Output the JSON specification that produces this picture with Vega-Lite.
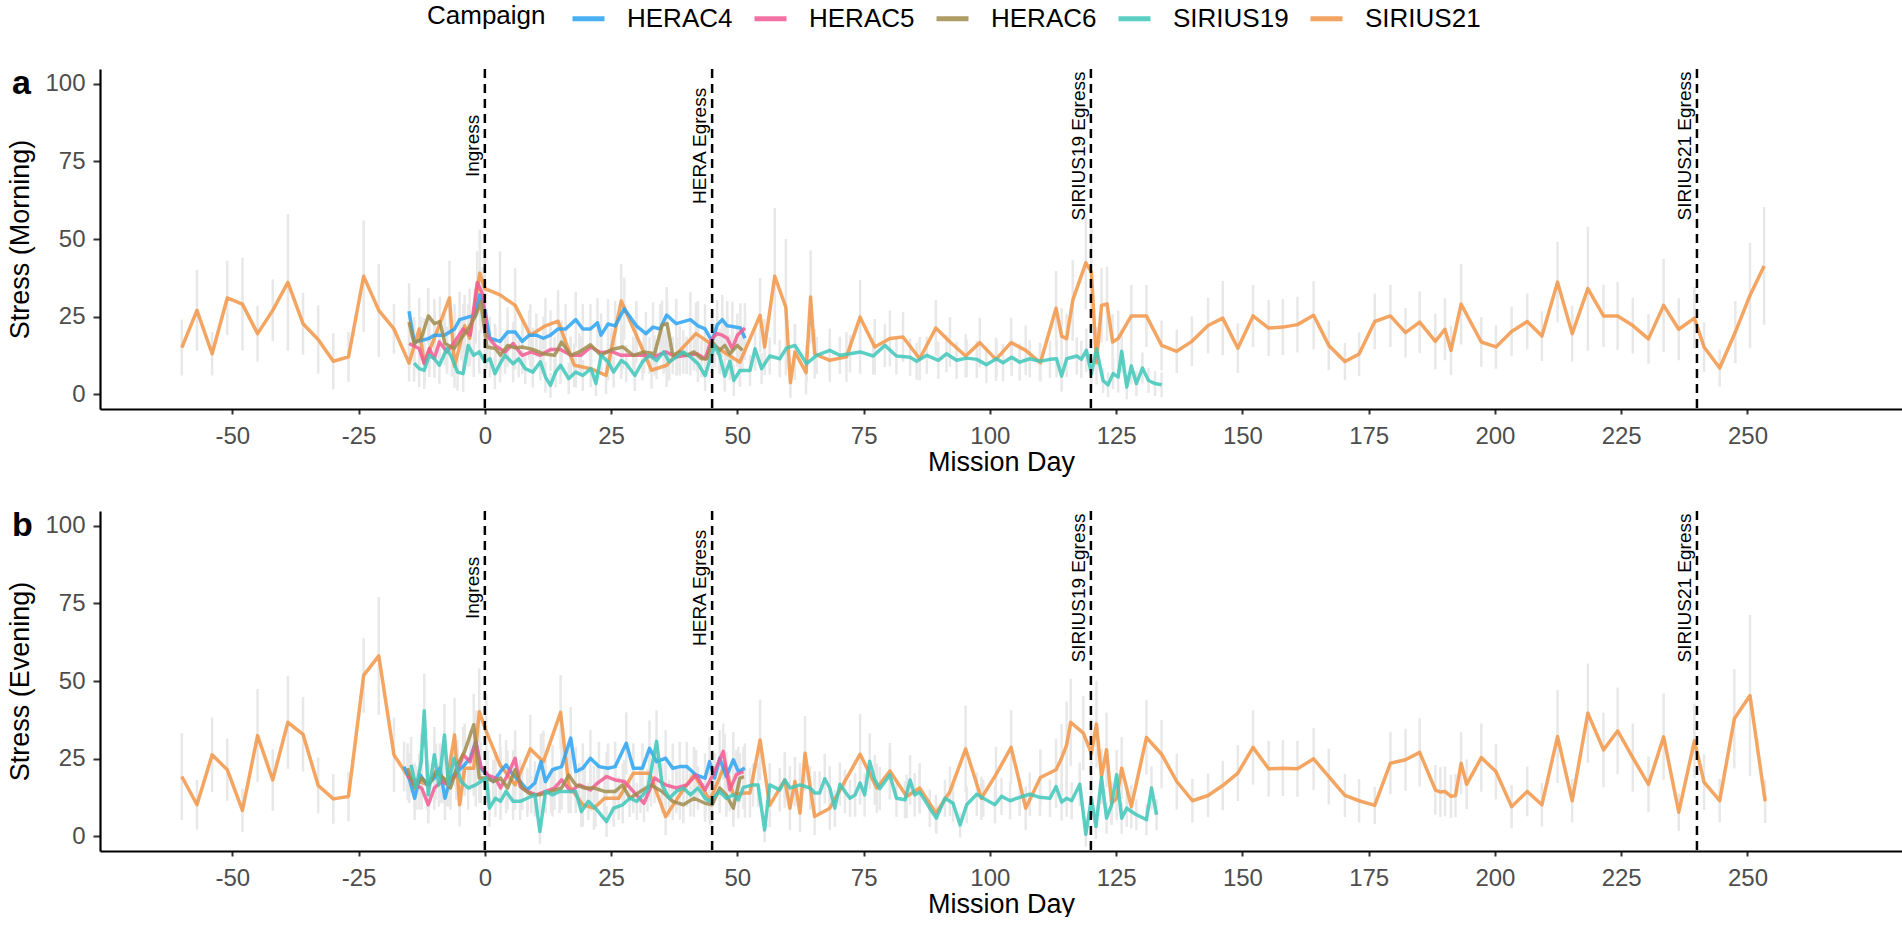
{
  "$schema": "https://vega.github.io/schema/vega-lite/v6.json",
  "background": "white",
  "padding": {"left": 6, "top": 0, "right": 0, "bottom": 0},
  "bounds": "flush",
  "spacing": 102,
  "config": {
    "view": {"stroke": null},
    "font": "Liberation Sans",
    "axis": {
      "grid": false,
      "labelFontSize": 24,
      "labelColor": "#4d4d4d",
      "titleFontSize": 27,
      "titleFontWeight": "normal",
      "titleColor": "black",
      "domainColor": "black",
      "domainWidth": 2.2,
      "tickColor": "#333333",
      "tickWidth": 2
    },
    "axisX": {"tickSize": 5, "labelPadding": 10, "titlePadding": 1},
    "axisY": {"tickSize": 7, "labelPadding": 8, "titlePadding": 10}
  },
  "datasets": {
    "ev": [
      {"d": 0, "t": "Ingress"},
      {"d": 45, "t": "HERA Egress"},
      {"d": 120, "t": "SIRIUS19 Egress"},
      {"d": 240, "t": "SIRIUS21 Egress"}
    ],
    "am": [
      {"c":"SIRIUS21","d":-60,"v":15,"e":9},{"c":"SIRIUS21","d":-57,"v":27,"e":13},{"c":"SIRIUS21","d":-54,"v":13,"e":7},{"c":"SIRIUS21","d":-51,"v":31,"e":12},{"c":"SIRIUS21","d":-48,"v":29,"e":15},{"c":"SIRIUS21","d":-45,"v":19.5,"e":9},{"c":"SIRIUS21","d":-42,"v":27,"e":10},{"c":"SIRIUS21","d":-39,"v":36,"e":22},{"c":"SIRIUS21","d":-36,"v":22.7,"e":10},{"c":"SIRIUS21","d":-33,"v":17.6,"e":11},{"c":"SIRIUS21","d":-30,"v":10.6,"e":9},{"c":"SIRIUS21","d":-27,"v":12,"e":8},{"c":"SIRIUS21","d":-24,"v":38,"e":18},{"c":"SIRIUS21","d":-21,"v":27,"e":15},{"c":"SIRIUS21","d":-18,"v":21,"e":8},{"c":"SIRIUS21","d":-15,"v":10,"e":6},{"c":"SIRIUS21","d":-13,"v":21,"e":10},{"c":"SIRIUS21","d":-12,"v":10,"e":6},{"c":"SIRIUS21","d":-10,"v":18,"e":8},{"c":"SIRIUS21","d":-7,"v":31,"e":12},{"c":"SIRIUS21","d":-6,"v":9,"e":7},{"c":"SIRIUS21","d":-4,"v":22,"e":10},{"c":"SIRIUS21","d":-3,"v":18,"e":9},{"c":"SIRIUS21","d":-1,"v":39,"e":14},{"c":"SIRIUS21","d":0,"v":34,"e":12},{"c":"SIRIUS21","d":3,"v":32,"e":14},{"c":"SIRIUS21","d":6,"v":28.6,"e":12},{"c":"SIRIUS21","d":9,"v":19,"e":10},{"c":"SIRIUS21","d":12,"v":22,"e":9},{"c":"SIRIUS21","d":14.5,"v":23.5,"e":10},{"c":"SIRIUS21","d":17.7,"v":9.3,"e":7},{"c":"SIRIUS21","d":21,"v":8.2,"e":6},{"c":"SIRIUS21","d":24,"v":6,"e":6},{"c":"SIRIUS21","d":27,"v":30,"e":12},{"c":"SIRIUS21","d":30,"v":19,"e":9},{"c":"SIRIUS21","d":33,"v":7.7,"e":6},{"c":"SIRIUS21","d":36,"v":9.3,"e":7},{"c":"SIRIUS21","d":38.6,"v":14,"e":8},{"c":"SIRIUS21","d":41.8,"v":19.5,"e":10},{"c":"SIRIUS21","d":45,"v":16,"e":9},{"c":"SIRIUS21","d":50.5,"v":10.3,"e":8},{"c":"SIRIUS21","d":54.5,"v":25.4,"e":12},{"c":"SIRIUS21","d":55.4,"v":15.2,"e":9},{"c":"SIRIUS21","d":57.4,"v":38,"e":22},{"c":"SIRIUS21","d":59.6,"v":28,"e":22},{"c":"SIRIUS21","d":60.5,"v":3.7,"e":5},{"c":"SIRIUS21","d":61.4,"v":13.6,"e":9},{"c":"SIRIUS21","d":63.6,"v":6.9,"e":7},{"c":"SIRIUS21","d":64.5,"v":31.3,"e":15},{"c":"SIRIUS21","d":65.3,"v":13,"e":8},{"c":"SIRIUS21","d":68.3,"v":10.9,"e":7},{"c":"SIRIUS21","d":71.6,"v":12,"e":8},{"c":"SIRIUS21","d":74.3,"v":24.8,"e":12},{"c":"SIRIUS21","d":77.2,"v":15.2,"e":9},{"c":"SIRIUS21","d":80.2,"v":17.9,"e":9},{"c":"SIRIUS21","d":82.8,"v":18.4,"e":8},{"c":"SIRIUS21","d":86.1,"v":11.4,"e":7},{"c":"SIRIUS21","d":89.3,"v":21.3,"e":9},{"c":"SIRIUS21","d":92.1,"v":16.8,"e":8},{"c":"SIRIUS21","d":95.2,"v":12.3,"e":7},{"c":"SIRIUS21","d":98,"v":16.6,"e":8},{"c":"SIRIUS21","d":101.2,"v":11.2,"e":7},{"c":"SIRIUS21","d":104.2,"v":16.6,"e":8},{"c":"SIRIUS21","d":107.1,"v":14.1,"e":8},{"c":"SIRIUS21","d":110,"v":10.1,"e":6},{"c":"SIRIUS21","d":113.1,"v":27.7,"e":12},{"c":"SIRIUS21","d":114.2,"v":18.7,"e":9},{"c":"SIRIUS21","d":115.2,"v":17.9,"e":8},{"c":"SIRIUS21","d":116.4,"v":30.2,"e":13},{"c":"SIRIUS21","d":119,"v":42.3,"e":15},{"c":"SIRIUS21","d":120.1,"v":39.3,"e":14},{"c":"SIRIUS21","d":121.1,"v":10.1,"e":7},{"c":"SIRIUS21","d":122.1,"v":28.6,"e":12},{"c":"SIRIUS21","d":123.2,"v":29.1,"e":12},{"c":"SIRIUS21","d":124.3,"v":16.8,"e":9},{"c":"SIRIUS21","d":125.4,"v":17.9,"e":9},{"c":"SIRIUS21","d":128,"v":25.2,"e":10},{"c":"SIRIUS21","d":131,"v":25.2,"e":10},{"c":"SIRIUS21","d":134,"v":15.7,"e":8},{"c":"SIRIUS21","d":137,"v":13.8,"e":7},{"c":"SIRIUS21","d":140,"v":17,"e":8},{"c":"SIRIUS21","d":143.2,"v":22.1,"e":9},{"c":"SIRIUS21","d":146.1,"v":24.5,"e":12},{"c":"SIRIUS21","d":149.1,"v":14.8,"e":8},{"c":"SIRIUS21","d":152.1,"v":25.2,"e":10},{"c":"SIRIUS21","d":155.2,"v":21.3,"e":9},{"c":"SIRIUS21","d":158,"v":21.6,"e":9},{"c":"SIRIUS21","d":160.9,"v":22.4,"e":9},{"c":"SIRIUS21","d":164.1,"v":25.4,"e":11},{"c":"SIRIUS21","d":167.1,"v":15.7,"e":8},{"c":"SIRIUS21","d":170.3,"v":10.5,"e":6},{"c":"SIRIUS21","d":173.1,"v":12.9,"e":7},{"c":"SIRIUS21","d":176.2,"v":23.4,"e":9},{"c":"SIRIUS21","d":179.3,"v":25.2,"e":10},{"c":"SIRIUS21","d":182.3,"v":19.8,"e":8},{"c":"SIRIUS21","d":185.1,"v":23.2,"e":10},{"c":"SIRIUS21","d":188.2,"v":17,"e":9},{"c":"SIRIUS21","d":190.1,"v":20.9,"e":10},{"c":"SIRIUS21","d":191.3,"v":14.1,"e":8},{"c":"SIRIUS21","d":193.3,"v":29,"e":13},{"c":"SIRIUS21","d":197.3,"v":16.8,"e":8},{"c":"SIRIUS21","d":200.2,"v":15.2,"e":7},{"c":"SIRIUS21","d":203.3,"v":20.2,"e":8},{"c":"SIRIUS21","d":206.4,"v":23.4,"e":9},{"c":"SIRIUS21","d":209.3,"v":18.7,"e":8},{"c":"SIRIUS21","d":212.4,"v":36.1,"e":13},{"c":"SIRIUS21","d":215.3,"v":19.5,"e":9},{"c":"SIRIUS21","d":218.4,"v":34,"e":20},{"c":"SIRIUS21","d":221.5,"v":25.2,"e":10},{"c":"SIRIUS21","d":224.3,"v":25.2,"e":11},{"c":"SIRIUS21","d":227.3,"v":22.1,"e":9},{"c":"SIRIUS21","d":230.4,"v":17.8,"e":8},{"c":"SIRIUS21","d":233.4,"v":28.6,"e":15},{"c":"SIRIUS21","d":236.4,"v":20.9,"e":10},{"c":"SIRIUS21","d":239.5,"v":24.5,"e":10},{"c":"SIRIUS21","d":241.4,"v":15.2,"e":8},{"c":"SIRIUS21","d":244.5,"v":8.4,"e":6},{"c":"SIRIUS21","d":247.6,"v":20,"e":10},{"c":"SIRIUS21","d":250.5,"v":31.8,"e":17},{"c":"SIRIUS21","d":253.3,"v":41.3,"e":19},
      {"c":"HERAC4","d":-15,"v":26.7,"e":9},{"c":"HERAC4","d":-14,"v":16.8,"e":8},{"c":"HERAC4","d":-12,"v":17.5,"e":7},{"c":"HERAC4","d":-11,"v":18,"e":7},{"c":"HERAC4","d":-10,"v":19,"e":8},{"c":"HERAC4","d":-8,"v":19,"e":7},{"c":"HERAC4","d":-6,"v":21,"e":8},{"c":"HERAC4","d":-5,"v":24,"e":9},{"c":"HERAC4","d":-3,"v":25,"e":9},{"c":"HERAC4","d":-2,"v":25,"e":9},{"c":"HERAC4","d":-1,"v":32,"e":10},{"c":"HERAC4","d":0,"v":27,"e":9},{"c":"HERAC4","d":1,"v":18,"e":7},{"c":"HERAC4","d":3,"v":17,"e":7},{"c":"HERAC4","d":4.5,"v":20,"e":8},{"c":"HERAC4","d":6,"v":20,"e":8},{"c":"HERAC4","d":7.4,"v":17,"e":7},{"c":"HERAC4","d":8.8,"v":19,"e":8},{"c":"HERAC4","d":10.2,"v":19,"e":7},{"c":"HERAC4","d":11.6,"v":18,"e":7},{"c":"HERAC4","d":13,"v":19,"e":8},{"c":"HERAC4","d":14.5,"v":21,"e":8},{"c":"HERAC4","d":16,"v":21,"e":8},{"c":"HERAC4","d":18,"v":24,"e":9},{"c":"HERAC4","d":19.4,"v":21,"e":8},{"c":"HERAC4","d":20.9,"v":21,"e":8},{"c":"HERAC4","d":22.3,"v":23,"e":8},{"c":"HERAC4","d":23,"v":19,"e":7},{"c":"HERAC4","d":24.4,"v":22.6,"e":8},{"c":"HERAC4","d":25.8,"v":22,"e":8},{"c":"HERAC4","d":27.6,"v":27.5,"e":10},{"c":"HERAC4","d":30,"v":22,"e":8},{"c":"HERAC4","d":31.9,"v":19.5,"e":7},{"c":"HERAC4","d":33.3,"v":21.6,"e":8},{"c":"HERAC4","d":34.7,"v":21,"e":8},{"c":"HERAC4","d":36,"v":25.5,"e":9},{"c":"HERAC4","d":37.9,"v":22.7,"e":8},{"c":"HERAC4","d":40.7,"v":24,"e":9},{"c":"HERAC4","d":42.2,"v":22,"e":8},{"c":"HERAC4","d":43.6,"v":21,"e":8},{"c":"HERAC4","d":45,"v":17,"e":7},{"c":"HERAC4","d":46,"v":22.3,"e":8},{"c":"HERAC4","d":47,"v":24,"e":8},{"c":"HERAC4","d":48,"v":22,"e":8},{"c":"HERAC4","d":49,"v":21.8,"e":8},{"c":"HERAC4","d":50.6,"v":21.3,"e":8},{"c":"HERAC4","d":51.5,"v":18,"e":7},
      {"c":"HERAC5","d":-15,"v":16.3,"e":7},{"c":"HERAC5","d":-13,"v":14.7,"e":7},{"c":"HERAC5","d":-12,"v":9.8,"e":6},{"c":"HERAC5","d":-11,"v":14.7,"e":7},{"c":"HERAC5","d":-10,"v":11.4,"e":6},{"c":"HERAC5","d":-9,"v":16.8,"e":7},{"c":"HERAC5","d":-7.5,"v":13.6,"e":7},{"c":"HERAC5","d":-6,"v":16.8,"e":7},{"c":"HERAC5","d":-4.3,"v":21,"e":8},{"c":"HERAC5","d":-2.9,"v":19,"e":8},{"c":"HERAC5","d":-1.5,"v":36,"e":10},{"c":"HERAC5","d":-0.4,"v":32,"e":9},{"c":"HERAC5","d":0.4,"v":19,"e":8},{"c":"HERAC5","d":2,"v":15.7,"e":7},{"c":"HERAC5","d":4,"v":13.6,"e":6},{"c":"HERAC5","d":5.6,"v":16.3,"e":7},{"c":"HERAC5","d":7.4,"v":12.5,"e":6},{"c":"HERAC5","d":9.2,"v":13.6,"e":6},{"c":"HERAC5","d":11,"v":12.5,"e":6},{"c":"HERAC5","d":13,"v":14.4,"e":7},{"c":"HERAC5","d":15,"v":14.4,"e":7},{"c":"HERAC5","d":17,"v":12.5,"e":6},{"c":"HERAC5","d":19,"v":12.5,"e":6},{"c":"HERAC5","d":21,"v":15.2,"e":7},{"c":"HERAC5","d":23,"v":13.3,"e":6},{"c":"HERAC5","d":25,"v":13.8,"e":6},{"c":"HERAC5","d":27,"v":12.5,"e":6},{"c":"HERAC5","d":29.4,"v":12.5,"e":6},{"c":"HERAC5","d":31.5,"v":12.5,"e":6},{"c":"HERAC5","d":33.6,"v":12,"e":6},{"c":"HERAC5","d":35.8,"v":13.6,"e":6},{"c":"HERAC5","d":38,"v":12,"e":6},{"c":"HERAC5","d":40,"v":12.5,"e":6},{"c":"HERAC5","d":42,"v":13,"e":6},{"c":"HERAC5","d":43.6,"v":11.4,"e":6},{"c":"HERAC5","d":45,"v":17.9,"e":7},{"c":"HERAC5","d":46,"v":19.5,"e":7},{"c":"HERAC5","d":47,"v":19,"e":7},{"c":"HERAC5","d":48,"v":18,"e":7},{"c":"HERAC5","d":49,"v":14.6,"e":7},{"c":"HERAC5","d":50,"v":19,"e":7},{"c":"HERAC5","d":51.5,"v":21.3,"e":8},
      {"c":"HERAC6","d":-15,"v":23.2,"e":8},{"c":"HERAC6","d":-14,"v":16.3,"e":7},{"c":"HERAC6","d":-12.6,"v":17.9,"e":7},{"c":"HERAC6","d":-11.2,"v":25.2,"e":9},{"c":"HERAC6","d":-10,"v":22.7,"e":8},{"c":"HERAC6","d":-8.9,"v":23.4,"e":8},{"c":"HERAC6","d":-7.9,"v":16.3,"e":7},{"c":"HERAC6","d":-6.1,"v":14.7,"e":7},{"c":"HERAC6","d":-4.7,"v":17.9,"e":7},{"c":"HERAC6","d":-3.3,"v":21,"e":8},{"c":"HERAC6","d":-1.8,"v":25.4,"e":9},{"c":"HERAC6","d":-0.8,"v":29.7,"e":10},{"c":"HERAC6","d":0.4,"v":15.2,"e":7},{"c":"HERAC6","d":2.1,"v":14.7,"e":7},{"c":"HERAC6","d":3.1,"v":12.5,"e":6},{"c":"HERAC6","d":4.5,"v":15.7,"e":7},{"c":"HERAC6","d":6,"v":14.9,"e":7},{"c":"HERAC6","d":7.4,"v":15.2,"e":7},{"c":"HERAC6","d":9.5,"v":14.4,"e":7},{"c":"HERAC6","d":11.6,"v":13,"e":6},{"c":"HERAC6","d":13.8,"v":12.5,"e":6},{"c":"HERAC6","d":15.2,"v":16.8,"e":7},{"c":"HERAC6","d":17,"v":12.5,"e":6},{"c":"HERAC6","d":18.7,"v":13.6,"e":6},{"c":"HERAC6","d":20.9,"v":15.9,"e":7},{"c":"HERAC6","d":23,"v":12.5,"e":6},{"c":"HERAC6","d":25.1,"v":14.4,"e":7},{"c":"HERAC6","d":27.3,"v":15.2,"e":7},{"c":"HERAC6","d":29.4,"v":12.5,"e":6},{"c":"HERAC6","d":31.5,"v":13.6,"e":6},{"c":"HERAC6","d":33.6,"v":13,"e":6},{"c":"HERAC6","d":35.1,"v":22.2,"e":8},{"c":"HERAC6","d":36.1,"v":22.7,"e":8},{"c":"HERAC6","d":37.2,"v":12.5,"e":6},{"c":"HERAC6","d":38.6,"v":13.6,"e":6},{"c":"HERAC6","d":40,"v":12.5,"e":6},{"c":"HERAC6","d":41.4,"v":13.6,"e":6},{"c":"HERAC6","d":42.9,"v":11.4,"e":6},{"c":"HERAC6","d":44,"v":11.4,"e":6},{"c":"HERAC6","d":45,"v":16.8,"e":7},{"c":"HERAC6","d":46.5,"v":14.1,"e":7},{"c":"HERAC6","d":47.5,"v":15.7,"e":7},{"c":"HERAC6","d":48.5,"v":13,"e":6},{"c":"HERAC6","d":50,"v":15.7,"e":7},{"c":"HERAC6","d":51,"v":14.1,"e":7},
      {"c":"SIRIUS19","d":-14,"v":10,"e":6},{"c":"SIRIUS19","d":-13,"v":8.2,"e":6},{"c":"SIRIUS19","d":-12,"v":7.7,"e":6},{"c":"SIRIUS19","d":-11,"v":12.5,"e":7},{"c":"SIRIUS19","d":-10,"v":11.4,"e":6},{"c":"SIRIUS19","d":-9,"v":9.3,"e":6},{"c":"SIRIUS19","d":-7.5,"v":14.7,"e":7},{"c":"SIRIUS19","d":-6.5,"v":11.6,"e":6},{"c":"SIRIUS19","d":-5.4,"v":7.1,"e":6},{"c":"SIRIUS19","d":-4.3,"v":6.6,"e":6},{"c":"SIRIUS19","d":-3.3,"v":15.7,"e":7},{"c":"SIRIUS19","d":-2.2,"v":12.5,"e":7},{"c":"SIRIUS19","d":-1.1,"v":13.6,"e":7},{"c":"SIRIUS19","d":0,"v":10.4,"e":6},{"c":"SIRIUS19","d":1,"v":11.4,"e":6},{"c":"SIRIUS19","d":2,"v":6.6,"e":5},{"c":"SIRIUS19","d":3,"v":9.8,"e":6},{"c":"SIRIUS19","d":4,"v":12.5,"e":6},{"c":"SIRIUS19","d":5.6,"v":9.8,"e":6},{"c":"SIRIUS19","d":6.7,"v":11.4,"e":6},{"c":"SIRIUS19","d":8,"v":8.2,"e":5},{"c":"SIRIUS19","d":9.5,"v":7.1,"e":5},{"c":"SIRIUS19","d":11,"v":10.4,"e":6},{"c":"SIRIUS19","d":12,"v":5.5,"e":5},{"c":"SIRIUS19","d":13,"v":2.8,"e":4},{"c":"SIRIUS19","d":14,"v":7.1,"e":5},{"c":"SIRIUS19","d":15,"v":9.3,"e":6},{"c":"SIRIUS19","d":16.6,"v":5,"e":5},{"c":"SIRIUS19","d":18,"v":7.1,"e":5},{"c":"SIRIUS19","d":19.4,"v":6,"e":5},{"c":"SIRIUS19","d":21,"v":8.2,"e":5},{"c":"SIRIUS19","d":22,"v":3.4,"e":4},{"c":"SIRIUS19","d":23,"v":12.5,"e":6},{"c":"SIRIUS19","d":24.4,"v":10.4,"e":6},{"c":"SIRIUS19","d":25.5,"v":7.1,"e":5},{"c":"SIRIUS19","d":27,"v":10.8,"e":6},{"c":"SIRIUS19","d":28,"v":9.8,"e":6},{"c":"SIRIUS19","d":29.7,"v":6,"e":5},{"c":"SIRIUS19","d":31.2,"v":10.4,"e":6},{"c":"SIRIUS19","d":32.6,"v":12.5,"e":6},{"c":"SIRIUS19","d":34,"v":10.8,"e":6},{"c":"SIRIUS19","d":35.4,"v":13.6,"e":7},{"c":"SIRIUS19","d":36.5,"v":10.4,"e":6},{"c":"SIRIUS19","d":38,"v":12,"e":6},{"c":"SIRIUS19","d":39.3,"v":13.6,"e":7},{"c":"SIRIUS19","d":40.7,"v":12,"e":6},{"c":"SIRIUS19","d":42.2,"v":9.8,"e":6},{"c":"SIRIUS19","d":43.6,"v":6,"e":5},{"c":"SIRIUS19","d":45.5,"v":15.7,"e":7},{"c":"SIRIUS19","d":46.5,"v":12.5,"e":6},{"c":"SIRIUS19","d":47.5,"v":5.8,"e":5},{"c":"SIRIUS19","d":48.5,"v":10.6,"e":6},{"c":"SIRIUS19","d":49.3,"v":4.4,"e":5},{"c":"SIRIUS19","d":50.5,"v":7.6,"e":5},{"c":"SIRIUS19","d":52.5,"v":7.6,"e":5},{"c":"SIRIUS19","d":53.5,"v":14.6,"e":7},{"c":"SIRIUS19","d":54.8,"v":8.2,"e":5},{"c":"SIRIUS19","d":56.4,"v":12.3,"e":6},{"c":"SIRIUS19","d":58.4,"v":11.4,"e":6},{"c":"SIRIUS19","d":59.7,"v":14.8,"e":7},{"c":"SIRIUS19","d":61.4,"v":15.7,"e":7},{"c":"SIRIUS19","d":63.7,"v":9.8,"e":6},{"c":"SIRIUS19","d":65.7,"v":12.5,"e":6},{"c":"SIRIUS19","d":68.3,"v":14.1,"e":7},{"c":"SIRIUS19","d":70.3,"v":12.5,"e":6},{"c":"SIRIUS19","d":72.3,"v":13,"e":6},{"c":"SIRIUS19","d":74.3,"v":13.6,"e":7},{"c":"SIRIUS19","d":76.9,"v":12.3,"e":6},{"c":"SIRIUS19","d":79.2,"v":15.7,"e":7},{"c":"SIRIUS19","d":81.5,"v":12.3,"e":6},{"c":"SIRIUS19","d":84.2,"v":11.9,"e":6},{"c":"SIRIUS19","d":85.5,"v":10.6,"e":6},{"c":"SIRIUS19","d":87.5,"v":12.5,"e":6},{"c":"SIRIUS19","d":89.8,"v":10.9,"e":6},{"c":"SIRIUS19","d":91.4,"v":13,"e":6},{"c":"SIRIUS19","d":93.4,"v":10.9,"e":6},{"c":"SIRIUS19","d":95.4,"v":11.6,"e":6},{"c":"SIRIUS19","d":97.4,"v":11.2,"e":6},{"c":"SIRIUS19","d":99.3,"v":9.5,"e":6},{"c":"SIRIUS19","d":101.3,"v":11.4,"e":6},{"c":"SIRIUS19","d":102.6,"v":10.1,"e":6},{"c":"SIRIUS19","d":104.3,"v":11.9,"e":6},{"c":"SIRIUS19","d":105.9,"v":10.3,"e":6},{"c":"SIRIUS19","d":107.9,"v":11.4,"e":6},{"c":"SIRIUS19","d":109.9,"v":10.6,"e":6},{"c":"SIRIUS19","d":111.9,"v":11.2,"e":6},{"c":"SIRIUS19","d":113.2,"v":11.4,"e":6},{"c":"SIRIUS19","d":114.2,"v":5.8,"e":5},{"c":"SIRIUS19","d":115.2,"v":11.4,"e":6},{"c":"SIRIUS19","d":117.2,"v":12.3,"e":6},{"c":"SIRIUS19","d":118.1,"v":11.2,"e":6},{"c":"SIRIUS19","d":119.1,"v":14.1,"e":7},{"c":"SIRIUS19","d":120.1,"v":6.6,"e":5},{"c":"SIRIUS19","d":121.1,"v":14.6,"e":7},{"c":"SIRIUS19","d":122.4,"v":4.4,"e":4},{"c":"SIRIUS19","d":123.4,"v":3,"e":4},{"c":"SIRIUS19","d":124.4,"v":6.6,"e":5},{"c":"SIRIUS19","d":125.4,"v":5.5,"e":5},{"c":"SIRIUS19","d":126.1,"v":13.8,"e":7},{"c":"SIRIUS19","d":127.1,"v":2.3,"e":4},{"c":"SIRIUS19","d":128,"v":9.1,"e":6},{"c":"SIRIUS19","d":129,"v":3.4,"e":4},{"c":"SIRIUS19","d":130.2,"v":8.4,"e":5},{"c":"SIRIUS19","d":131.4,"v":4.4,"e":4},{"c":"SIRIUS19","d":132.7,"v":3.4,"e":4},{"c":"SIRIUS19","d":134,"v":3,"e":4}
    ],
    "pm": [
      {"c":"SIRIUS21","d":-60,"v":19.2,"e":14},{"c":"SIRIUS21","d":-57,"v":10.1,"e":8},{"c":"SIRIUS21","d":-54,"v":26.2,"e":12},{"c":"SIRIUS21","d":-51,"v":21.4,"e":10},{"c":"SIRIUS21","d":-48,"v":8.3,"e":7},{"c":"SIRIUS21","d":-45,"v":32.4,"e":15},{"c":"SIRIUS21","d":-42,"v":18.1,"e":10},{"c":"SIRIUS21","d":-39,"v":36.7,"e":15},{"c":"SIRIUS21","d":-36,"v":32.8,"e":12},{"c":"SIRIUS21","d":-33,"v":16.3,"e":9},{"c":"SIRIUS21","d":-30,"v":12,"e":8},{"c":"SIRIUS21","d":-27,"v":12.8,"e":8},{"c":"SIRIUS21","d":-24,"v":51.8,"e":12},{"c":"SIRIUS21","d":-21,"v":58.1,"e":19},{"c":"SIRIUS21","d":-18,"v":26.2,"e":12},{"c":"SIRIUS21","d":-15,"v":18.7,"e":8},{"c":"SIRIUS21","d":-13,"v":17.6,"e":9},{"c":"SIRIUS21","d":-11.4,"v":16.5,"e":8},{"c":"SIRIUS21","d":-9.7,"v":20.8,"e":9},{"c":"SIRIUS21","d":-7.5,"v":17.6,"e":8},{"c":"SIRIUS21","d":-6,"v":32.6,"e":12},{"c":"SIRIUS21","d":-5,"v":10.1,"e":7},{"c":"SIRIUS21","d":-4,"v":21.9,"e":9},{"c":"SIRIUS21","d":-2.2,"v":21.9,"e":9},{"c":"SIRIUS21","d":-1.1,"v":40.1,"e":14},{"c":"SIRIUS21","d":0.3,"v":33.7,"e":12},{"c":"SIRIUS21","d":3,"v":23,"e":10},{"c":"SIRIUS21","d":6,"v":16.5,"e":8},{"c":"SIRIUS21","d":9,"v":28.1,"e":11},{"c":"SIRIUS21","d":11.6,"v":24,"e":10},{"c":"SIRIUS21","d":15,"v":39.9,"e":12},{"c":"SIRIUS21","d":16.6,"v":16.5,"e":8},{"c":"SIRIUS21","d":19.4,"v":10.1,"e":7},{"c":"SIRIUS21","d":21.6,"v":9,"e":7},{"c":"SIRIUS21","d":23.7,"v":12.2,"e":7},{"c":"SIRIUS21","d":26.5,"v":12.2,"e":7},{"c":"SIRIUS21","d":29.4,"v":20.3,"e":9},{"c":"SIRIUS21","d":32.6,"v":20.3,"e":9},{"c":"SIRIUS21","d":35.8,"v":6.3,"e":6},{"c":"SIRIUS21","d":38.6,"v":13.3,"e":8},{"c":"SIRIUS21","d":41.4,"v":19.8,"e":9},{"c":"SIRIUS21","d":44.6,"v":11.5,"e":8},{"c":"SIRIUS21","d":47.5,"v":23,"e":10},{"c":"SIRIUS21","d":49.2,"v":13.3,"e":8},{"c":"SIRIUS21","d":51.5,"v":13.9,"e":8},{"c":"SIRIUS21","d":52.5,"v":13.9,"e":8},{"c":"SIRIUS21","d":54.5,"v":31,"e":13},{"c":"SIRIUS21","d":56.4,"v":9.9,"e":7},{"c":"SIRIUS21","d":59.4,"v":18.1,"e":9},{"c":"SIRIUS21","d":60.4,"v":9,"e":7},{"c":"SIRIUS21","d":61.4,"v":17.6,"e":8},{"c":"SIRIUS21","d":62.4,"v":7.4,"e":6},{"c":"SIRIUS21","d":63.4,"v":26.7,"e":12},{"c":"SIRIUS21","d":65.3,"v":6.3,"e":6},{"c":"SIRIUS21","d":68.3,"v":9,"e":7},{"c":"SIRIUS21","d":74.3,"v":26.4,"e":13},{"c":"SIRIUS21","d":77.6,"v":15.5,"e":8},{"c":"SIRIUS21","d":80.2,"v":21,"e":9},{"c":"SIRIUS21","d":83.5,"v":12.8,"e":7},{"c":"SIRIUS21","d":86.1,"v":15.5,"e":8},{"c":"SIRIUS21","d":89.3,"v":7.4,"e":6},{"c":"SIRIUS21","d":92.1,"v":14.4,"e":8},{"c":"SIRIUS21","d":95.2,"v":28.1,"e":14},{"c":"SIRIUS21","d":98.3,"v":12.2,"e":7},{"c":"SIRIUS21","d":101.2,"v":19.8,"e":9},{"c":"SIRIUS21","d":104.2,"v":28.6,"e":12},{"c":"SIRIUS21","d":107.1,"v":9,"e":7},{"c":"SIRIUS21","d":110,"v":18.9,"e":9},{"c":"SIRIUS21","d":113.1,"v":21.4,"e":10},{"c":"SIRIUS21","d":114.2,"v":25.1,"e":11},{"c":"SIRIUS21","d":115.2,"v":29.4,"e":14},{"c":"SIRIUS21","d":116,"v":36.7,"e":14},{"c":"SIRIUS21","d":118.5,"v":33.2,"e":12},{"c":"SIRIUS21","d":120.1,"v":26.7,"e":11},{"c":"SIRIUS21","d":121.1,"v":36.1,"e":14},{"c":"SIRIUS21","d":122.1,"v":19.2,"e":9},{"c":"SIRIUS21","d":123.1,"v":27.8,"e":12},{"c":"SIRIUS21","d":124.1,"v":10.6,"e":7},{"c":"SIRIUS21","d":125.1,"v":12.2,"e":7},{"c":"SIRIUS21","d":126.1,"v":21.9,"e":10},{"c":"SIRIUS21","d":128,"v":9.5,"e":7},{"c":"SIRIUS21","d":131,"v":31.8,"e":12},{"c":"SIRIUS21","d":134,"v":26.4,"e":11},{"c":"SIRIUS21","d":137,"v":17.6,"e":9},{"c":"SIRIUS21","d":140.1,"v":11.4,"e":7},{"c":"SIRIUS21","d":143.2,"v":13.1,"e":7},{"c":"SIRIUS21","d":146.1,"v":16.3,"e":8},{"c":"SIRIUS21","d":149.1,"v":20.3,"e":9},{"c":"SIRIUS21","d":152.1,"v":28.6,"e":12},{"c":"SIRIUS21","d":155.2,"v":21.7,"e":9},{"c":"SIRIUS21","d":158,"v":21.9,"e":9},{"c":"SIRIUS21","d":160.9,"v":21.7,"e":9},{"c":"SIRIUS21","d":164.1,"v":24.9,"e":10},{"c":"SIRIUS21","d":167.1,"v":19.2,"e":9},{"c":"SIRIUS21","d":170.3,"v":13.1,"e":7},{"c":"SIRIUS21","d":173.1,"v":11.4,"e":7},{"c":"SIRIUS21","d":176.2,"v":9.9,"e":6},{"c":"SIRIUS21","d":179.3,"v":23.5,"e":10},{"c":"SIRIUS21","d":182.3,"v":24.6,"e":10},{"c":"SIRIUS21","d":185.1,"v":27,"e":11},{"c":"SIRIUS21","d":188.2,"v":14.9,"e":8},{"c":"SIRIUS21","d":189.2,"v":14.2,"e":8},{"c":"SIRIUS21","d":190.1,"v":14.4,"e":8},{"c":"SIRIUS21","d":191.3,"v":12.8,"e":7},{"c":"SIRIUS21","d":192.2,"v":13.1,"e":7},{"c":"SIRIUS21","d":193.3,"v":23.5,"e":10},{"c":"SIRIUS21","d":194.4,"v":16.7,"e":8},{"c":"SIRIUS21","d":197.3,"v":25.3,"e":11},{"c":"SIRIUS21","d":200.2,"v":20.8,"e":9},{"c":"SIRIUS21","d":203.3,"v":9.5,"e":7},{"c":"SIRIUS21","d":206.4,"v":14.4,"e":8},{"c":"SIRIUS21","d":209.3,"v":10.1,"e":7},{"c":"SIRIUS21","d":212.4,"v":32.1,"e":15},{"c":"SIRIUS21","d":215.3,"v":11.4,"e":7},{"c":"SIRIUS21","d":218.4,"v":39.6,"e":16},{"c":"SIRIUS21","d":221.5,"v":27.8,"e":12},{"c":"SIRIUS21","d":224.3,"v":33.9,"e":14},{"c":"SIRIUS21","d":227.3,"v":25.3,"e":11},{"c":"SIRIUS21","d":230.4,"v":16.7,"e":9},{"c":"SIRIUS21","d":233.4,"v":32,"e":14},{"c":"SIRIUS21","d":236.4,"v":7.7,"e":6},{"c":"SIRIUS21","d":239.5,"v":30.7,"e":12},{"c":"SIRIUS21","d":241.4,"v":17.4,"e":9},{"c":"SIRIUS21","d":244.5,"v":11.4,"e":7},{"c":"SIRIUS21","d":247.4,"v":37.8,"e":16},{"c":"SIRIUS21","d":250.5,"v":45.3,"e":26},{"c":"SIRIUS21","d":253.5,"v":11.2,"e":7},
      {"c":"HERAC4","d":-16,"v":22.4,"e":8},{"c":"HERAC4","d":-15,"v":18.7,"e":8},{"c":"HERAC4","d":-13.9,"v":12.2,"e":7},{"c":"HERAC4","d":-12.8,"v":19.7,"e":8},{"c":"HERAC4","d":-11.4,"v":16.5,"e":7},{"c":"HERAC4","d":-10,"v":18.7,"e":8},{"c":"HERAC4","d":-8.9,"v":21.9,"e":8},{"c":"HERAC4","d":-7.9,"v":12.2,"e":7},{"c":"HERAC4","d":-6.8,"v":18.7,"e":8},{"c":"HERAC4","d":-5.4,"v":20.8,"e":8},{"c":"HERAC4","d":-4,"v":23,"e":9},{"c":"HERAC4","d":-2.9,"v":25.1,"e":9},{"c":"HERAC4","d":-1.8,"v":30.5,"e":10},{"c":"HERAC4","d":-0.8,"v":21.9,"e":8},{"c":"HERAC4","d":0.4,"v":19.7,"e":8},{"c":"HERAC4","d":1.7,"v":17.6,"e":7},{"c":"HERAC4","d":3.1,"v":20.8,"e":8},{"c":"HERAC4","d":4.2,"v":23,"e":8},{"c":"HERAC4","d":5.6,"v":19.7,"e":8},{"c":"HERAC4","d":7,"v":17.6,"e":7},{"c":"HERAC4","d":8.4,"v":14.9,"e":7},{"c":"HERAC4","d":9.9,"v":17.1,"e":7},{"c":"HERAC4","d":11.1,"v":24,"e":9},{"c":"HERAC4","d":12,"v":17.6,"e":7},{"c":"HERAC4","d":13.4,"v":21.4,"e":8},{"c":"HERAC4","d":15.2,"v":22.4,"e":8},{"c":"HERAC4","d":17,"v":31.6,"e":10},{"c":"HERAC4","d":18,"v":20.8,"e":8},{"c":"HERAC4","d":19.4,"v":21.9,"e":8},{"c":"HERAC4","d":20.9,"v":25.1,"e":9},{"c":"HERAC4","d":22.6,"v":22.4,"e":8},{"c":"HERAC4","d":24.4,"v":21.9,"e":8},{"c":"HERAC4","d":25.8,"v":22.4,"e":8},{"c":"HERAC4","d":28,"v":29.9,"e":10},{"c":"HERAC4","d":29.4,"v":21.9,"e":8},{"c":"HERAC4","d":31.2,"v":21.9,"e":8},{"c":"HERAC4","d":32.6,"v":28.3,"e":9},{"c":"HERAC4","d":34,"v":24,"e":8},{"c":"HERAC4","d":35.8,"v":25.1,"e":9},{"c":"HERAC4","d":37.2,"v":21.9,"e":8},{"c":"HERAC4","d":38.6,"v":22.4,"e":8},{"c":"HERAC4","d":40,"v":22.4,"e":8},{"c":"HERAC4","d":41.8,"v":19.7,"e":8},{"c":"HERAC4","d":43.6,"v":18.7,"e":8},{"c":"HERAC4","d":44.5,"v":24,"e":8},{"c":"HERAC4","d":45.5,"v":18.7,"e":8},{"c":"HERAC4","d":46.5,"v":25.1,"e":9},{"c":"HERAC4","d":47.8,"v":19.2,"e":8},{"c":"HERAC4","d":49.2,"v":24.6,"e":9},{"c":"HERAC4","d":50.2,"v":20.8,"e":8},{"c":"HERAC4","d":51.5,"v":21.9,"e":8},
      {"c":"HERAC5","d":-15.3,"v":19.7,"e":8},{"c":"HERAC5","d":-13.9,"v":16.5,"e":7},{"c":"HERAC5","d":-12.5,"v":15.5,"e":7},{"c":"HERAC5","d":-11.2,"v":10.1,"e":6},{"c":"HERAC5","d":-10,"v":15.5,"e":7},{"c":"HERAC5","d":-8.6,"v":17.6,"e":7},{"c":"HERAC5","d":-7.2,"v":16.5,"e":7},{"c":"HERAC5","d":-5.7,"v":19.7,"e":8},{"c":"HERAC5","d":-4.3,"v":26.2,"e":9},{"c":"HERAC5","d":-2.9,"v":24,"e":9},{"c":"HERAC5","d":-1.8,"v":30.5,"e":10},{"c":"HERAC5","d":-0.8,"v":22.4,"e":8},{"c":"HERAC5","d":0.6,"v":19.7,"e":8},{"c":"HERAC5","d":2.1,"v":18.7,"e":8},{"c":"HERAC5","d":3.1,"v":15.5,"e":7},{"c":"HERAC5","d":4.5,"v":19.7,"e":8},{"c":"HERAC5","d":6,"v":25.1,"e":9},{"c":"HERAC5","d":7,"v":16,"e":7},{"c":"HERAC5","d":8.4,"v":14.4,"e":7},{"c":"HERAC5","d":10.2,"v":13.3,"e":6},{"c":"HERAC5","d":12,"v":14.4,"e":7},{"c":"HERAC5","d":13.8,"v":15.5,"e":7},{"c":"HERAC5","d":15.2,"v":18.1,"e":7},{"c":"HERAC5","d":17,"v":14.4,"e":7},{"c":"HERAC5","d":18.7,"v":16.5,"e":7},{"c":"HERAC5","d":20.9,"v":14.9,"e":7},{"c":"HERAC5","d":22.3,"v":17.1,"e":7},{"c":"HERAC5","d":24.1,"v":19.2,"e":8},{"c":"HERAC5","d":25.8,"v":18.1,"e":7},{"c":"HERAC5","d":27.6,"v":17.6,"e":7},{"c":"HERAC5","d":29.4,"v":14.4,"e":7},{"c":"HERAC5","d":31.5,"v":10.6,"e":6},{"c":"HERAC5","d":33.6,"v":18.7,"e":8},{"c":"HERAC5","d":35.8,"v":16.5,"e":7},{"c":"HERAC5","d":37.9,"v":15.5,"e":7},{"c":"HERAC5","d":40,"v":16.5,"e":7},{"c":"HERAC5","d":41.8,"v":19.7,"e":8},{"c":"HERAC5","d":43.6,"v":14.9,"e":7},{"c":"HERAC5","d":45.2,"v":19.8,"e":8},{"c":"HERAC5","d":47.2,"v":27.3,"e":9},{"c":"HERAC5","d":48.5,"v":14.9,"e":7},{"c":"HERAC5","d":49.8,"v":19.8,"e":8},{"c":"HERAC5","d":51.2,"v":20.8,"e":8},
      {"c":"HERAC6","d":-15.3,"v":21.9,"e":8},{"c":"HERAC6","d":-13.9,"v":15.5,"e":7},{"c":"HERAC6","d":-12.5,"v":18.7,"e":8},{"c":"HERAC6","d":-11.1,"v":16.5,"e":7},{"c":"HERAC6","d":-9.7,"v":20.8,"e":8},{"c":"HERAC6","d":-8.2,"v":18.7,"e":8},{"c":"HERAC6","d":-6.8,"v":15.5,"e":7},{"c":"HERAC6","d":-5.4,"v":23,"e":8},{"c":"HERAC6","d":-4,"v":27.3,"e":9},{"c":"HERAC6","d":-2.2,"v":35.9,"e":10},{"c":"HERAC6","d":-1.1,"v":18.7,"e":8},{"c":"HERAC6","d":0.3,"v":18.7,"e":8},{"c":"HERAC6","d":1.7,"v":17.6,"e":7},{"c":"HERAC6","d":3.1,"v":18.7,"e":8},{"c":"HERAC6","d":4.5,"v":15.5,"e":7},{"c":"HERAC6","d":6,"v":21.4,"e":8},{"c":"HERAC6","d":7.4,"v":15.5,"e":7},{"c":"HERAC6","d":9.2,"v":13.3,"e":6},{"c":"HERAC6","d":10.9,"v":13.3,"e":6},{"c":"HERAC6","d":13.1,"v":14.4,"e":7},{"c":"HERAC6","d":15.2,"v":15.5,"e":7},{"c":"HERAC6","d":16.6,"v":19.7,"e":8},{"c":"HERAC6","d":18,"v":16.5,"e":7},{"c":"HERAC6","d":19.8,"v":15.5,"e":7},{"c":"HERAC6","d":21.6,"v":15.5,"e":7},{"c":"HERAC6","d":23.7,"v":14.4,"e":7},{"c":"HERAC6","d":25.8,"v":14.4,"e":7},{"c":"HERAC6","d":27.3,"v":16.5,"e":7},{"c":"HERAC6","d":28.7,"v":12.2,"e":6},{"c":"HERAC6","d":30.8,"v":14.4,"e":7},{"c":"HERAC6","d":32.9,"v":16.5,"e":7},{"c":"HERAC6","d":35.1,"v":14.4,"e":7},{"c":"HERAC6","d":37.2,"v":11.2,"e":6},{"c":"HERAC6","d":39.3,"v":10.1,"e":6},{"c":"HERAC6","d":41.4,"v":12.2,"e":6},{"c":"HERAC6","d":43.6,"v":10.6,"e":6},{"c":"HERAC6","d":45,"v":10.1,"e":6},{"c":"HERAC6","d":46.5,"v":15.5,"e":7},{"c":"HERAC6","d":47.8,"v":13.3,"e":6},{"c":"HERAC6","d":49.2,"v":9,"e":6},{"c":"HERAC6","d":50.5,"v":18.7,"e":8},{"c":"HERAC6","d":51.3,"v":19.2,"e":8},
      {"c":"SIRIUS19","d":-14.6,"v":23,"e":9},{"c":"SIRIUS19","d":-13.6,"v":15.5,"e":7},{"c":"SIRIUS19","d":-12.6,"v":24,"e":9},{"c":"SIRIUS19","d":-12,"v":40.4,"e":12},{"c":"SIRIUS19","d":-11.2,"v":13.3,"e":7},{"c":"SIRIUS19","d":-10,"v":26.2,"e":9},{"c":"SIRIUS19","d":-9.1,"v":16.5,"e":7},{"c":"SIRIUS19","d":-8,"v":32.6,"e":10},{"c":"SIRIUS19","d":-7.2,"v":16.5,"e":7},{"c":"SIRIUS19","d":-6.1,"v":25.1,"e":9},{"c":"SIRIUS19","d":-4.7,"v":17.6,"e":7},{"c":"SIRIUS19","d":-3.3,"v":15.5,"e":7},{"c":"SIRIUS19","d":-1.8,"v":16.5,"e":7},{"c":"SIRIUS19","d":-0.8,"v":17.6,"e":7},{"c":"SIRIUS19","d":0.3,"v":18.7,"e":8},{"c":"SIRIUS19","d":0.9,"v":9,"e":6},{"c":"SIRIUS19","d":2.1,"v":12.2,"e":6},{"c":"SIRIUS19","d":3.1,"v":11.2,"e":6},{"c":"SIRIUS19","d":4.2,"v":14.4,"e":7},{"c":"SIRIUS19","d":5.6,"v":11.2,"e":6},{"c":"SIRIUS19","d":7,"v":11.2,"e":6},{"c":"SIRIUS19","d":8.4,"v":12.2,"e":6},{"c":"SIRIUS19","d":9.9,"v":13.3,"e":7},{"c":"SIRIUS19","d":10.9,"v":1.5,"e":4},{"c":"SIRIUS19","d":12,"v":14.4,"e":7},{"c":"SIRIUS19","d":13.4,"v":13.3,"e":7},{"c":"SIRIUS19","d":14.8,"v":14.4,"e":7},{"c":"SIRIUS19","d":16.6,"v":14.4,"e":7},{"c":"SIRIUS19","d":18,"v":14.4,"e":7},{"c":"SIRIUS19","d":19.1,"v":7.9,"e":5},{"c":"SIRIUS19","d":20.5,"v":11.2,"e":6},{"c":"SIRIUS19","d":21.9,"v":9,"e":6},{"c":"SIRIUS19","d":24.1,"v":4.7,"e":5},{"c":"SIRIUS19","d":25.5,"v":9,"e":6},{"c":"SIRIUS19","d":27.3,"v":10.1,"e":6},{"c":"SIRIUS19","d":28.7,"v":12.2,"e":6},{"c":"SIRIUS19","d":30.1,"v":11.2,"e":6},{"c":"SIRIUS19","d":32.2,"v":14.9,"e":7},{"c":"SIRIUS19","d":34,"v":30.5,"e":10},{"c":"SIRIUS19","d":35.1,"v":16.5,"e":7},{"c":"SIRIUS19","d":36.5,"v":12.2,"e":6},{"c":"SIRIUS19","d":37.9,"v":14.4,"e":7},{"c":"SIRIUS19","d":39.3,"v":15.5,"e":7},{"c":"SIRIUS19","d":40.7,"v":13.3,"e":7},{"c":"SIRIUS19","d":42.2,"v":15.5,"e":7},{"c":"SIRIUS19","d":43.6,"v":12.2,"e":6},{"c":"SIRIUS19","d":44.5,"v":11.2,"e":6},{"c":"SIRIUS19","d":46.5,"v":14.4,"e":7},{"c":"SIRIUS19","d":47.8,"v":12.2,"e":6},{"c":"SIRIUS19","d":49.2,"v":13.3,"e":7},{"c":"SIRIUS19","d":50.2,"v":11.7,"e":6},{"c":"SIRIUS19","d":51.2,"v":15.7,"e":7},{"c":"SIRIUS19","d":53.1,"v":16.5,"e":7},{"c":"SIRIUS19","d":54.1,"v":16.5,"e":7},{"c":"SIRIUS19","d":55.4,"v":2,"e":4},{"c":"SIRIUS19","d":56.4,"v":16.5,"e":7},{"c":"SIRIUS19","d":58.4,"v":14.9,"e":7},{"c":"SIRIUS19","d":59.4,"v":18.1,"e":8},{"c":"SIRIUS19","d":60.4,"v":15.5,"e":7},{"c":"SIRIUS19","d":62.4,"v":16.5,"e":7},{"c":"SIRIUS19","d":64.4,"v":15.5,"e":7},{"c":"SIRIUS19","d":65.3,"v":13.9,"e":7},{"c":"SIRIUS19","d":66.3,"v":13.9,"e":7},{"c":"SIRIUS19","d":67.3,"v":18.5,"e":8},{"c":"SIRIUS19","d":68.3,"v":15.5,"e":7},{"c":"SIRIUS19","d":69.3,"v":9,"e":6},{"c":"SIRIUS19","d":70.3,"v":16.7,"e":7},{"c":"SIRIUS19","d":71.3,"v":14.4,"e":7},{"c":"SIRIUS19","d":72.3,"v":12.2,"e":6},{"c":"SIRIUS19","d":73.3,"v":13.3,"e":7},{"c":"SIRIUS19","d":74.3,"v":17.1,"e":7},{"c":"SIRIUS19","d":75.2,"v":13.3,"e":7},{"c":"SIRIUS19","d":76.2,"v":24.1,"e":9},{"c":"SIRIUS19","d":77.2,"v":18.1,"e":8},{"c":"SIRIUS19","d":78.2,"v":15.3,"e":7},{"c":"SIRIUS19","d":80.2,"v":19.8,"e":8},{"c":"SIRIUS19","d":81.5,"v":12.2,"e":6},{"c":"SIRIUS19","d":83.2,"v":11.7,"e":6},{"c":"SIRIUS19","d":84.2,"v":18.1,"e":8},{"c":"SIRIUS19","d":85.1,"v":13.3,"e":7},{"c":"SIRIUS19","d":86.1,"v":14.2,"e":7},{"c":"SIRIUS19","d":88.1,"v":9,"e":6},{"c":"SIRIUS19","d":89.4,"v":5.8,"e":5},{"c":"SIRIUS19","d":91.1,"v":12.2,"e":6},{"c":"SIRIUS19","d":92.7,"v":10.6,"e":6},{"c":"SIRIUS19","d":94.1,"v":3.6,"e":4},{"c":"SIRIUS19","d":95.4,"v":10.1,"e":6},{"c":"SIRIUS19","d":97.4,"v":13.5,"e":7},{"c":"SIRIUS19","d":98.7,"v":12.2,"e":6},{"c":"SIRIUS19","d":101,"v":10.1,"e":6},{"c":"SIRIUS19","d":102.3,"v":12.8,"e":6},{"c":"SIRIUS19","d":104,"v":11.4,"e":6},{"c":"SIRIUS19","d":105.9,"v":12.5,"e":6},{"c":"SIRIUS19","d":107.9,"v":13.5,"e":7},{"c":"SIRIUS19","d":109.9,"v":12.5,"e":6},{"c":"SIRIUS19","d":111.9,"v":12.2,"e":6},{"c":"SIRIUS19","d":113.1,"v":16,"e":7},{"c":"SIRIUS19","d":114.2,"v":11,"e":6},{"c":"SIRIUS19","d":115.2,"v":12.2,"e":6},{"c":"SIRIUS19","d":116.2,"v":11.4,"e":6},{"c":"SIRIUS19","d":117.8,"v":16.7,"e":7},{"c":"SIRIUS19","d":119,"v":0.6,"e":4},{"c":"SIRIUS19","d":120.1,"v":12.2,"e":6},{"c":"SIRIUS19","d":121,"v":3.1,"e":4},{"c":"SIRIUS19","d":122.1,"v":18.9,"e":8},{"c":"SIRIUS19","d":123.1,"v":5.8,"e":5},{"c":"SIRIUS19","d":124.1,"v":10.1,"e":6},{"c":"SIRIUS19","d":125.1,"v":19.8,"e":8},{"c":"SIRIUS19","d":126.1,"v":5.8,"e":5},{"c":"SIRIUS19","d":127.1,"v":9,"e":6},{"c":"SIRIUS19","d":129,"v":6.9,"e":5},{"c":"SIRIUS19","d":131,"v":5.3,"e":5},{"c":"SIRIUS19","d":132,"v":15.5,"e":7},{"c":"SIRIUS19","d":133,"v":6.9,"e":5}
    ]
  },
  "vconcat": [
    {
      "width": 1802,
      "height": 340,
      "title": {"text": "a", "anchor": "start", "frame": "group", "fontSize": 34, "fontWeight": "bold", "color": "black", "dx": -88, "dy": 34, "offset": -26, "baseline": "alphabetic"},
      "layer": [
        {
          "data": {"name": "am"},
          "mark": {"type": "errorbar", "color": "#e8e8e8", "thickness": 2.5},
          "encoding": {
            "x": {"field": "d", "type": "quantitative", "title": "Mission Day",
                  "scale": {"domain": [-76.2, 280.6], "nice": false, "zero": false},
                  "axis": {"values": [-50, -25, 0, 25, 50, 75, 100, 125, 150, 175, 200, 225, 250],
                           "labelExpr": "datum.value < 0 ? '-' + (-datum.value) : '' + datum.value"}},
            "y": {"field": "v", "type": "quantitative", "title": "Stress (Morning)",
                  "scale": {"domain": [-4.8, 104.8], "nice": false, "zero": false},
                  "axis": {"values": [0, 25, 50, 75, 100]}},
            "yError": {"field": "e"},
            "detail": {"field": "c"}
          }
        },
        {
          "data": {"name": "am"},
          "mark": {"type": "line", "strokeWidth": 3.5, "opacity": 0.85, "strokeJoin": "round"},
          "encoding": {
            "x": {"field": "d", "type": "quantitative"},
            "y": {"field": "v", "type": "quantitative"},
            "color": {
              "field": "c", "type": "nominal", "title": "Campaign",
              "scale": {"domain": ["HERAC4", "HERAC5", "HERAC6", "SIRIUS19", "SIRIUS21"],
                        "range": ["#2aa3f2", "#f25a93", "#a08c4c", "#40c7bb", "#f29547"]},
              "legend": {
                "orient": "none", "legendX": 327, "legendY": -69, "direction": "horizontal",
                "titleOrient": "left", "titleFontSize": 26, "titleFontWeight": "normal", "titleColor": "black",
                "titlePadding": 24, "labelFontSize": 26, "labelColor": "black", "labelOffset": 20,
                "columnPadding": 11, "symbolType": "stroke", "symbolSize": 1024, "symbolStrokeWidth": 5,
                "symbolOpacity": 0.85
              }
            }
          }
        },
        {
          "data": {"name": "ev"},
          "mark": {"type": "rule", "color": "black", "strokeWidth": 2.5, "strokeDash": [9, 6]},
          "encoding": {"x": {"field": "d", "type": "quantitative"}}
        },
        {
          "data": {"name": "ev"},
          "mark": {"type": "text", "angle": 270, "align": "center", "baseline": "bottom", "fontSize": 19, "dy": -2, "color": "black"},
          "encoding": {
            "x": {"field": "d", "type": "quantitative"},
            "y": {"datum": 80},
            "text": {"field": "t"}
          }
        }
      ]
    },
    {
      "width": 1802,
      "height": 340,
      "title": {"text": "b", "anchor": "start", "frame": "group", "fontSize": 34, "fontWeight": "bold", "color": "black", "dx": -88, "dy": 34, "offset": -26, "baseline": "alphabetic"},
      "layer": [
        {
          "data": {"name": "pm"},
          "mark": {"type": "errorbar", "color": "#e8e8e8", "thickness": 2.5},
          "encoding": {
            "x": {"field": "d", "type": "quantitative", "title": "Mission Day",
                  "scale": {"domain": [-76.2, 280.6], "nice": false, "zero": false},
                  "axis": {"values": [-50, -25, 0, 25, 50, 75, 100, 125, 150, 175, 200, 225, 250],
                           "labelExpr": "datum.value < 0 ? '-' + (-datum.value) : '' + datum.value"}},
            "y": {"field": "v", "type": "quantitative", "title": "Stress (Evening)",
                  "scale": {"domain": [-4.8, 104.8], "nice": false, "zero": false},
                  "axis": {"values": [0, 25, 50, 75, 100]}},
            "yError": {"field": "e"},
            "detail": {"field": "c"}
          }
        },
        {
          "data": {"name": "pm"},
          "mark": {"type": "line", "strokeWidth": 3.5, "opacity": 0.85, "strokeJoin": "round"},
          "encoding": {
            "x": {"field": "d", "type": "quantitative"},
            "y": {"field": "v", "type": "quantitative"},
            "color": {"field": "c", "type": "nominal", "title": "Campaign"}
          }
        },
        {
          "data": {"name": "ev"},
          "mark": {"type": "rule", "color": "black", "strokeWidth": 2.5, "strokeDash": [9, 6]},
          "encoding": {"x": {"field": "d", "type": "quantitative"}}
        },
        {
          "data": {"name": "ev"},
          "mark": {"type": "text", "angle": 270, "align": "center", "baseline": "bottom", "fontSize": 19, "dy": -2, "color": "black"},
          "encoding": {
            "x": {"field": "d", "type": "quantitative"},
            "y": {"datum": 80},
            "text": {"field": "t"}
          }
        }
      ]
    }
  ]
}
